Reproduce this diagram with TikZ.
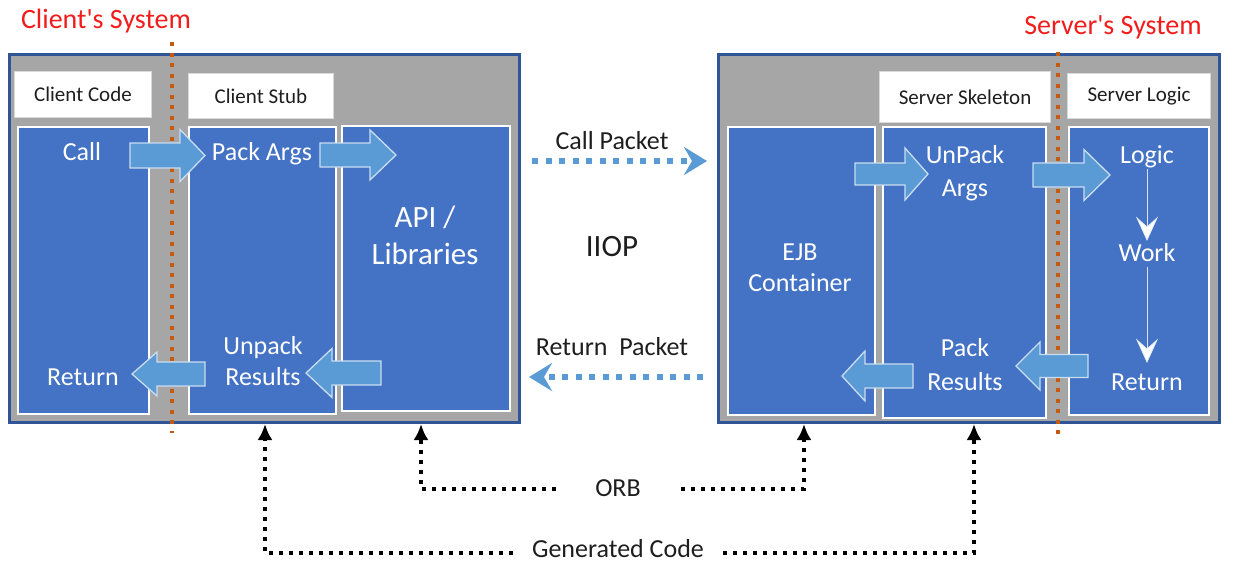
\documentclass[tikz,border=0pt]{standalone}
\usepackage{fontspec}
\setmainfont{Carlito}
\newfontfamily\plainfont{Carlito}[Ligatures=TeXOff]
\usetikzlibrary{arrows.meta}
\definecolor{boxblue}{HTML}{4472C4}
\definecolor{arrblue}{HTML}{5B9BD5}
\definecolor{arredge}{HTML}{C9DDF1}
\definecolor{panelgray}{HTML}{A6A6A6}
\definecolor{paneledge}{HTML}{2F5597}
\definecolor{dotorange}{HTML}{C55A11}
\definecolor{titlered}{HTML}{F21C1C}
\definecolor{txtblack}{HTML}{1E1E1E}
\newcommand\boxnode[6]{\node[#1, anchor=north west, minimum width={(#4-#2)*1pt}, minimum height={(#5-#3)*1pt}] (#6) at (#2,#3) {};}
\newcommand\blkarr[6]{\filldraw[blockarrow] (#1,#4-#5) -- (#2,#4-#5) -- (#2,#4-#6) -- (#3,#4) -- (#2,#4+#6) -- (#2,#4+#5) -- (#1,#4+#5) -- cycle;}
\newcommand\chevdown[1]{\filldraw[fill=white, draw=white!85!boxblue, line width=0.8pt, line join=miter] (#1) -- ++(-10,-22) -- ++(10,9) -- ++(10,-9) -- cycle;}
\begin{document}
\begin{tikzpicture}[x=1pt,y=-1pt,
  panel/.style={draw=paneledge, line width=2.5pt, fill=panelgray, inner sep=0pt},
  labelbox/.style={draw=white!85!black, line width=1pt, fill=white, inner sep=0pt},
  bluebox/.style={draw=white, line width=2.2pt, fill=boxblue, inner sep=0pt},
  blockarrow/.style={fill=arrblue, draw=arredge, line width=1.3pt, line join=miter},
  orangeline/.style={draw=dotorange, line width=4pt, dash pattern=on 4pt off 6.5pt},
  pkt/.style={draw=arrblue, line width=6pt, dash pattern=on 6pt off 7.5pt, -{Stealth[length=23pt,width=28pt,inset=8pt]}},
  blkdot/.style={draw=black, line width=4pt, dash pattern=on 4pt off 6pt, -{Latex[length=16pt,width=15pt]}},
  thinline/.style={draw=white!80!boxblue, line width=1pt, shorten <=1pt, shorten >=9pt},
  wtxt/.style={text=white, font=\fontsize{26}{30}\selectfont, inner sep=2pt, text height=0.68em, text depth=0.2em, yshift=-6pt},
  wbig/.style={text=white, font=\fontsize{31}{36}\selectfont, inner sep=2pt, text height=0.68em, text depth=0.2em, yshift=-7pt},
  ltxt/.style={text=txtblack, font=\fontsize{21}{25}\selectfont, inner sep=1pt},
  btxt/.style={text=txtblack, font=\fontsize{26}{30}\selectfont, inner sep=1pt},
  bbig/.style={text=txtblack, font=\fontsize{31}{36}\selectfont, inner sep=1pt},
  rtxt/.style={text=titlered, font=\plainfont\fontsize{28}{32}\selectfont, inner sep=1pt}]
\useasboundingbox (0,0) rectangle (1235,565);

% ---------- Client side ----------
\boxnode{panel}{8}{53}{518}{421}{cl}
\boxnode{labelbox}{14}{71}{151}{117}{clcodebox}
\boxnode{labelbox}{188}{73}{333}{118}{clstubbox}
\boxnode{bluebox}{17}{126}{148}{413}{callbox}
\boxnode{bluebox}{188}{126}{335}{413}{packbox}
\boxnode{bluebox}{341}{125}{509}{410}{apibox}
\node[ltxt] (tClCode) at (clcodebox.center) {Client Code};
\node[ltxt] (tClStub) at (clstubbox.center) {Client Stub};
\coordinate (olA) at (172,42);
\coordinate (olB) at (172,433);
\draw[orangeline] (olA) -- (olB);
\node[rtxt] (tClSys) at (106,21) {Client's System};

\blkarr{130}{180}{205}{155.5}{12.5}{26}
\blkarr{320}{370}{396}{155}{12}{25}
\blkarr{205}{157}{132}{374}{12}{22}
\blkarr{381}{332}{306}{373}{12}{24.5}

\node[wtxt] (tCall) at (82,152) {Call};
\node[wtxt] (tPackArgs) at (262,152) {Pack Args};
\node[wtxt] (tReturnC) at (83,377) {Return};
\node[wtxt] (tUnpack) at (263,346) {Unpack};
\node[wtxt] (tResultsC) at (263,377) {Results};
\node[wbig] (tApi) at (425,218) {API /};
\node[wbig] (tLib) at (425,255) {Libraries};

% ---------- Server side ----------
\boxnode{panel}{717}{53}{1218}{421}{sv}
\boxnode{labelbox}{879}{71}{1050}{122}{skelbox}
\boxnode{labelbox}{1067}{73}{1210}{118}{logicbox}
\boxnode{bluebox}{727}{126}{874}{414}{ejb}
\boxnode{bluebox}{882}{126}{1045}{417}{skel}
\boxnode{bluebox}{1068}{126}{1208}{414}{logic}
\node[ltxt] (tSkel) at (skelbox.center) {Server Skeleton};
\node[ltxt] (tLogicL) at (logicbox.center) {Server Logic};
\coordinate (orA) at (1058,52);
\coordinate (orB) at (1058,435);
\draw[orangeline] (orA) -- (orB);
\node[rtxt] (tSvSys) at (1113,27) {Server's System};

\blkarr{855}{905}{928}{174}{11}{26}
\blkarr{1033}{1084}{1110}{175}{12}{25.5}
\blkarr{1088}{1040}{1016}{366}{11.5}{24}
\blkarr{913}{865}{842}{376}{12}{25}

\node[wtxt] (tEjb) at (800,252) {EJB};
\node[wtxt] (tCont) at (800,283) {Container};
\node[wtxt] (tUnPack) at (965,155) {UnPack};
\node[wtxt] (tArgs) at (965,188) {Args};
\node[wtxt] (tLogic) at (1147,155) {Logic};
\node[wtxt] (tWork) at (1147,253) {Work};
\node[wtxt] (tReturnS) at (1147,382) {Return};
\node[wtxt] (tPack) at (965,348) {Pack};
\node[wtxt] (tResultsS) at (965,382) {Results};
\coordinate (wkTip) at (1147,240);
\coordinate (rtTip) at (1147,362);
\draw[thinline] (tLogic.south) -- (wkTip);
\chevdown{wkTip}
\draw[thinline] (tWork.south) -- (rtTip);
\chevdown{rtTip}

% ---------- Middle ----------
\node[btxt] (tCallPkt) at (612,141) {Call Packet};
\node[bbig] (tIiop) at (612,247) {IIOP};
\node[btxt] (tRetPkt) at (612,347) {Return\ \ Packet};
\coordinate (cpS) at (532,161);
\coordinate (cpE) at (707,161);
\draw[pkt] (cpS) -- (cpE);
\coordinate (rpS) at (703,377);
\coordinate (rpE) at (529,377);
\draw[pkt] (rpS) -- (rpE);

% ---------- Bottom connectors ----------
\node[btxt] (tOrb) at (618,488) {ORB};
\node[btxt] (tGen) at (618,549) {Generated Code};
\coordinate (orbL) at (556,489);
\coordinate (orbA) at (421,424);
\coordinate (orbR) at (681,489);
\coordinate (orbB) at (804,424);
\coordinate (gcL) at (513,553);
\coordinate (gcA) at (265,424);
\coordinate (gcR) at (723,553);
\coordinate (gcB) at (974,424);
\draw[blkdot] (orbL) -| (orbA);
\draw[blkdot] (orbR) -| (orbB);
\draw[blkdot] (gcL) -| (gcA);
\draw[blkdot] (gcR) -| (gcB);
\end{tikzpicture}
\end{document}
